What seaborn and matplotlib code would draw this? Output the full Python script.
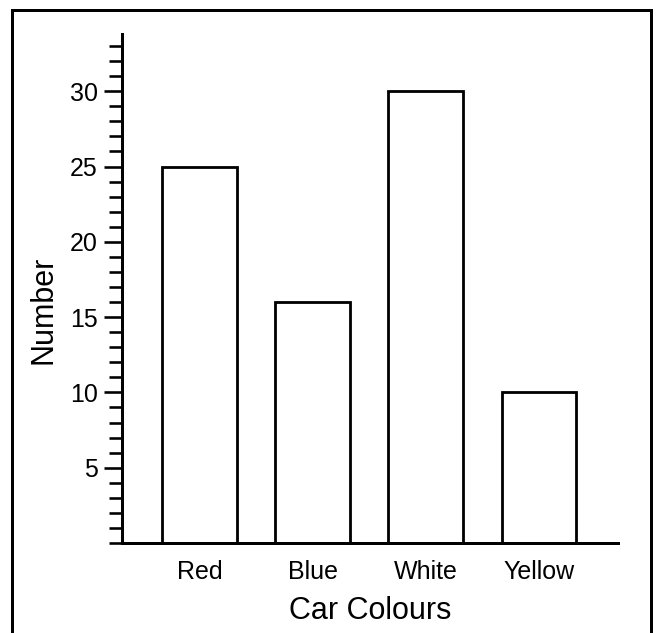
import matplotlib
matplotlib.use("Agg")
import matplotlib.pyplot as plt
import seaborn as sns
import pandas as pd
from matplotlib.patches import Rectangle
from matplotlib.ticker import MultipleLocator

categories = ["Red", "Blue", "White", "Yellow"]
values = [25, 16, 30, 10]
y_ticks = [5, 10, 15, 20, 25, 30]

sns.set_theme(style="ticks")
plt.rcParams['font.family'] = ['Liberation Sans', 'DejaVu Sans']

PX = 72 / 100  # points per pixel

df = pd.DataFrame({"colour": categories, "number": values})

fig = plt.figure(figsize=(6.6, 6.33), dpi=100)
ax = fig.add_axes([0.1848, 0.1422, 0.9364 - 0.1848, 0.9463 - 0.1422])

sns.barplot(data=df, x="colour", y="number", color="white", edgecolor="black",
            linewidth=2.8 * PX, width=0.66, saturation=1, ax=ax)

ax.set_xlim(-0.686, 3.70)
ax.set_ylim(0, 33.8)
ax.set_yticks(y_ticks)
ax.yaxis.set_minor_locator(MultipleLocator(1))
ax.tick_params(axis='y', which='major', length=18 * PX, width=2.6 * PX, labelsize=18,
               pad=6 * PX, color='black', labelcolor='black')
ax.tick_params(axis='y', which='minor', length=13 * PX, width=2.6 * PX, color='black')
ax.tick_params(axis='x', which='both', length=0, labelsize=18, pad=12, labelcolor='black')

for side in ['top', 'right']:
    ax.spines[side].set_visible(False)
for side in ['left', 'bottom']:
    ax.spines[side].set_linewidth(3 * PX)
    ax.spines[side].set_color('black')

ax.set_xlabel("Car Colours", fontsize=22, labelpad=9, color='black')
ax.set_ylabel("Number", fontsize=22, color='black')
ax.yaxis.set_label_coords(-0.128, 0.458)

frame = Rectangle((12 / 660, -0.05), (651 - 12) / 660, 1 - 10 / 633 + 0.05,
                  transform=fig.transFigure, fill=False, edgecolor='black',
                  linewidth=3 * PX, clip_on=False)
fig.patches.append(frame)

fig.savefig("out.png", dpi=100)
